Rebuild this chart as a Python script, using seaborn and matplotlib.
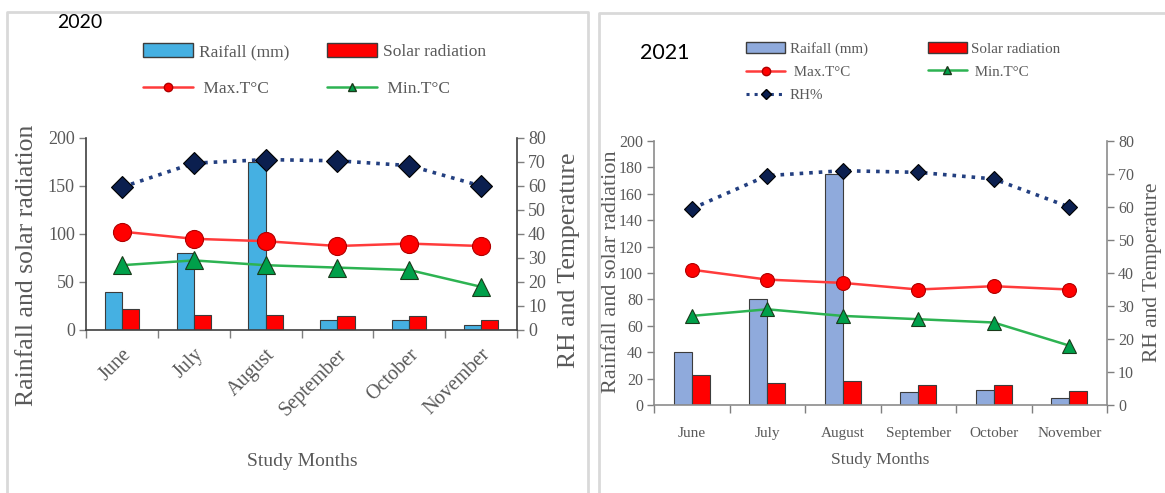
import numpy as np
import pandas as pd
import matplotlib
matplotlib.use("Agg")
import matplotlib.pyplot as plt
import seaborn as sns
from matplotlib.lines import Line2D
from matplotlib.patches import Patch

# ---------------------------------------------------------
# Data
# ---------------------------------------------------------
months = ["June", "July", "August", "September", "October", "November"]

rain_2020 = [40, 80, 175, 10, 10, 5]
solar_2020 = [22, 16, 16, 15, 15, 10]
tmax_2020 = [41, 38, 37, 35, 36, 35]
tmin_2020 = [27, 29, 27, 26, 25, 18]
rh_2020 = [59.5, 69.5, 71, 70.5, 68.5, 60]

rain_2021 = [40, 80, 175, 10, 11, 5]
solar_2021 = [23, 17, 18, 15, 15, 10.5]
tmax_2021 = [41, 38, 37, 35, 36, 35]
tmin_2021 = [27, 29, 27, 26, 25, 18]
rh_2021 = [59.5, 69.5, 71, 70.5, 68.5, 60]

W, H = 1165, 493

sns.set_style("white")
plt.rcParams["font.family"] = ["Liberation Serif", "DejaVu Serif"]

TXT = "#595959"
RED_LINE = "#FF3B3B"
GREEN_LINE = "#2DB352"
NAVY = "#233F80"

fig = plt.figure(figsize=(W / 100, H / 100), dpi=100)


def px(x0, y0, x1, y1):
    # pixel box -> figure fraction rect
    return [x0 / W, 1 - y1 / H, (x1 - x0) / W, (y1 - y0) / H]


def draw_panel(rect, rain, solar, tmax, tmin, rh, rain_color, s):
    ax = fig.add_axes(rect)
    df = pd.DataFrame({
        "Month": months * 2,
        "Value": rain + solar,
        "Series": ["Raifall (mm)"] * len(months) + ["Solar radiation"] * len(months),
    })
    sns.barplot(data=df, x="Month", y="Value", hue="Series", order=months,
                palette=[rain_color, "#FF0000"], width=0.48, gap=0, saturation=1,
                edgecolor="#3C3C3C", linewidth=0.8, legend=False, ax=ax)

    ax2 = ax.twinx()
    sns.pointplot(x=months, y=rh, order=months, errorbar=None, color=NAVY,
                  markers="D", linestyles=":", linewidth=2.6,
                  markersize=s["dia"], markerfacecolor="#0B1F4F",
                  markeredgecolor="#000000", markeredgewidth=0.8, ax=ax2)
    sns.pointplot(x=months, y=tmax, order=months, errorbar=None, color=RED_LINE,
                  markers="o", linewidth=1.8,
                  markersize=s["circ"], markerfacecolor="#FF0000",
                  markeredgecolor="#B00000", markeredgewidth=0.8, ax=ax2)
    sns.pointplot(x=months, y=tmin, order=months, errorbar=None, color=GREEN_LINE,
                  markers="^", linewidth=1.8,
                  markersize=s["tri"], markerfacecolor="#00A04A",
                  markeredgecolor="#1A3A1A", markeredgewidth=0.8, ax=ax2)

    ax.set_ylim(0, 200)
    ax.set_yticks(np.arange(0, 201, s["ystep"]))
    ax2.set_ylim(0, 80)
    ax2.set_yticks(np.arange(0, 81, 10))
    ax.set_xlim(-0.5, len(months) - 0.5)

    ax.set_xticks(np.arange(len(months)))
    ax.set_xticks(np.arange(len(months) + 1) - 0.5, minor=True)
    ax.set_xticklabels(months, fontsize=s["xt"], color=TXT,
                       rotation=s["rot"], ha=s["ha"], rotation_mode="anchor")
    ax.tick_params(axis="x", which="major", length=0, pad=s["xpad"])
    ax.tick_params(axis="x", which="minor", length=6, width=1, color="#7F7F7F",
                   direction="out", bottom=True)
    ax.tick_params(axis="y", length=5, width=1, color="#7F7F7F", direction="out",
                   left=True, labelsize=s["yt"], labelcolor=TXT, pad=3)
    ax2.tick_params(axis="y", length=5, width=1, color="#7F7F7F", direction="out",
                    right=True, labelsize=s["yt"], labelcolor=TXT, pad=3)

    for side in ["top", "right"]:
        ax.spines[side].set_visible(False)
    for side in ["top", "left", "bottom"]:
        ax2.spines[side].set_visible(False)
    for sp in [ax.spines["left"], ax.spines["bottom"], ax2.spines["right"]]:
        sp.set_color(s["spine"])
        sp.set_linewidth(1.2)

    ax.set_xlabel("")
    ax.set_ylabel("")
    ax2.set_xlabel("")
    ax2.set_ylabel("")
    ax.grid(False)
    ax2.grid(False)
    return ax, ax2


def legend_handles(rain_color, with_rh):
    rain_h = Patch(facecolor=rain_color, edgecolor="#3C3C3C", linewidth=1)
    solar_h = Patch(facecolor="#FF0000", edgecolor="#3C3C3C", linewidth=1)
    max_h = Line2D([], [], color=RED_LINE, lw=1.8, marker="o", markersize=6,
                   markerfacecolor="#FF0000", markeredgecolor="#B00000")
    min_h = Line2D([], [], color=GREEN_LINE, lw=1.8, marker="^", markersize=6,
                   markerfacecolor="#00A04A", markeredgecolor="#1A3A1A")
    rh_h = Line2D([], [], color=NAVY, lw=2.2, ls=":", marker="D", markersize=5,
                  markerfacecolor="#0B1F4F", markeredgecolor="#000000")
    if with_rh:
        return ([rain_h, max_h, rh_h, solar_h, min_h],
                ["Raifall (mm)", " Max.T°C", "RH%", "Solar radiation", " Min.T°C"])
    return ([rain_h, max_h, solar_h, min_h],
            ["Raifall (mm)", " Max.T°C", "Solar radiation", " Min.T°C"])


# ---------------------------------------------------------
# Panel 2020
# ---------------------------------------------------------
style_2020 = {"dia": 11, "circ": 13, "tri": 13, "ystep": 50, "xt": 14.5, "yt": 13,
              "rot": 45, "ha": "right", "xpad": 11, "spine": "#404040"}
draw_panel(px(86, 138, 517, 330), rain_2020, solar_2020, tmax_2020, tmin_2020,
           rh_2020, "#45B0E2", style_2020)

fig.text(80 / W, 1 - 23 / H, "2020", fontsize=14, family="Lato", color="black",
         ha="center", va="center")
h, l = legend_handles("#45B0E2", False)
fig.legend(h, l, loc="upper left", bbox_to_anchor=(143 / W, 1 - 43 / H), ncol=2,
           frameon=False, fontsize=12.5, handlelength=2.9, handleheight=0.9,
           handletextpad=0.3, columnspacing=2.2, labelspacing=1.15,
           labelcolor=TXT, borderaxespad=0, borderpad=0)
fig.text(27 / W, 1 - 265 / H, "Rainfall and solar radiation", rotation=90,
         fontsize=18.5, color=TXT, ha="center", va="center")
fig.text(569 / W, 1 - 260 / H, "RH and Temperature", rotation=90,
         fontsize=18.5, color=TXT, ha="center", va="center")
fig.text(302 / W, 1 - 462 / H, "Study Months", fontsize=14, color=TXT,
         ha="center", va="center")

# ---------------------------------------------------------
# Panel 2021
# ---------------------------------------------------------
style_2021 = {"dia": 8, "circ": 10, "tri": 10, "ystep": 20, "xt": 11, "yt": 11.5,
              "rot": 0, "ha": "center", "xpad": 16, "spine": "#8C8C8C"}
draw_panel(px(654, 141, 1107, 405), rain_2021, solar_2021, tmax_2021, tmin_2021,
           rh_2021, "#8FAADC", style_2021)

fig.text(665 / W, 1 - 53 / H, "2021", fontsize=15.5, family="Lato", color="black",
         ha="center", va="center")
h, l = legend_handles("#8FAADC", True)
fig.legend(h, l, loc="upper left", bbox_to_anchor=(746 / W, 1 - 42 / H), ncol=2,
           frameon=False, fontsize=10.8, handlelength=2.6, handleheight=0.8,
           handletextpad=0.3, columnspacing=4.0, labelspacing=0.6,
           labelcolor=TXT, borderaxespad=0, borderpad=0)
fig.text(611 / W, 1 - 272 / H, "Rainfall and solar radiation", rotation=90,
         fontsize=16, color=TXT, ha="center", va="center")
fig.text(1152 / W, 1 - 272 / H, "RH and Temperature", rotation=90,
         fontsize=15.5, color=TXT, ha="center", va="center")
fig.text(880 / W, 1 - 460 / H, "Study Months", fontsize=12.5, color=TXT,
         ha="center", va="center")

# ---------------------------------------------------------
# Panel borders
# ---------------------------------------------------------
border = dict(color="#D9D9D9", linewidth=2, transform=fig.transFigure)
fig.add_artist(Line2D([7 / W, 7 / W, 588 / W, 588 / W],
                      [0, 1 - 12 / H, 1 - 12 / H, 0], **border))
fig.add_artist(Line2D([599 / W, 599 / W, 1], [0, 1 - 13 / H, 1 - 13 / H], **border))

fig.savefig("out.png", dpi=100, facecolor="white")
